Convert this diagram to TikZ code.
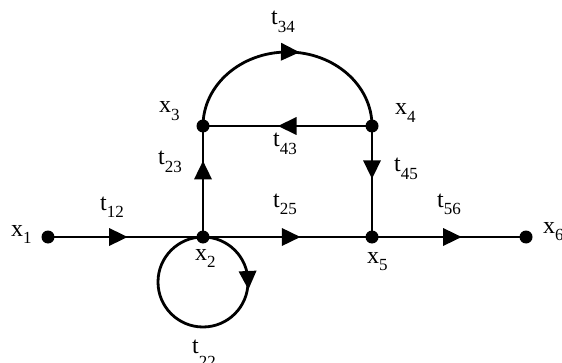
\documentclass[tikz,border=0pt]{standalone}
\usepackage{fontspec}
\setmainfont{Liberation Serif}
\usetikzlibrary{decorations.markings}
\newcommand{\symb}[3][7.5pt]{#2\raisebox{-#1}{\fontsize{17}{17}\selectfont #3}}
\tikzset{
  dotnode/.style={circle,fill=black,inner sep=0pt,minimum size=13pt},
  lbl/.style={anchor=base west,inner sep=0pt,font=\fontsize{24}{24}\selectfont},
  wire/.style={line width=2.8pt,black},
  midarrow/.style={postaction={decorate},decoration={markings,
     mark=at position #1 with {\fill (-9pt,-9pt) -- (9.5pt,0pt) -- (-9pt,9pt) -- cycle;}}}
}
\begin{document}
\begin{tikzpicture}[x=1pt,y=1pt]
\useasboundingbox (0,0) rectangle (562,362);
% nodes
\node[dotnode] (n1) at (48,125) {};
\node[dotnode] (n2) at (203,125) {};
\node[dotnode] (n5) at (372,125) {};
\node[dotnode] (n6) at (526,125) {};
\node[dotnode] (n3) at (203,236) {};
\node[dotnode] (n4) at (372,236) {};
% connectors
\draw[wire,midarrow=0.452] (n1.center) -- (n2.center);
\draw[wire,midarrow=0.52] (n2.center) -- (n5.center);
\draw[wire,midarrow=0.52] (n5.center) -- (n6.center);
\draw[wire,midarrow=0.60] (n2.center) -- (n3.center);
\draw[wire,midarrow=0.39] (n4.center) -- (n5.center);
\draw[wire,midarrow=0.5] (n4.center) -- (n3.center);
\draw[wire,midarrow=0.51] (n3.center) arc[start angle=180,end angle=0,x radius=84.5pt,y radius=74pt];
\draw[wire,midarrow=0.243] (n2.center) arc[start angle=90,end angle=-270,radius=45pt];
% labels
\node[lbl] (lx1) at (11,126) {\symb{x}{1}};
\node[lbl] (lt12) at (100,152) {\symb{t}{12}};
\node[lbl] (lx2) at (195,102) {\symb{x}{2}};
\node[lbl] (lt25) at (273,155) {\symb{t}{25}};
\node[lbl] (lt56) at (437,155) {\symb{t}{56}};
\node[lbl] (lx5) at (367,99) {\symb{x}{5}};
\node[lbl] (lx6) at (543,129) {\symb{x}{6}};
\node[lbl] (lx3) at (159,249) {\symb{x}{3}};
\node[lbl] (lt23) at (158,197) {\symb{t}{23}};
\node[lbl] (lt34) at (271,337) {\symb{t}{34}};
\node[lbl] (lt43) at (273,215) {\symb{t}{43}};
\node[lbl] (lx4) at (395,247) {\symb{x}{4}};
\node[lbl] (lt45) at (394,190) {\symb{t}{45}};
\node[lbl] (lt22) at (192,9) {\symb[14pt]{t}{22}};
\end{tikzpicture}
\end{document}
